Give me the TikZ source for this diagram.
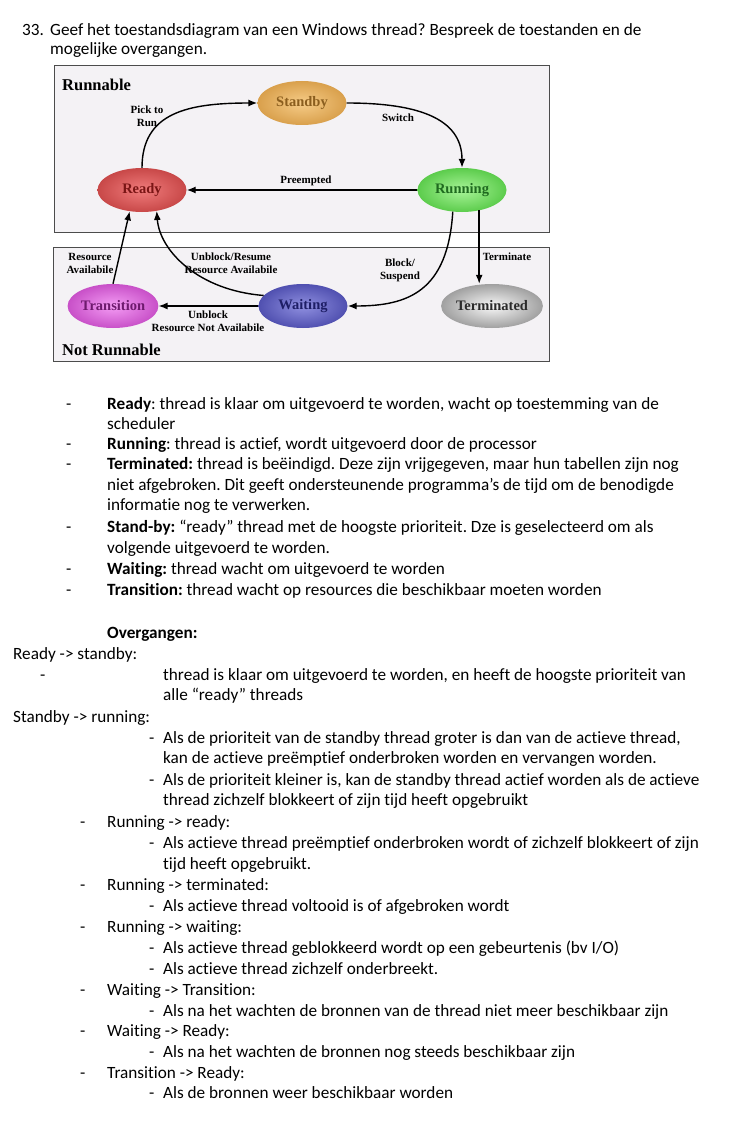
\documentclass[tikz,border=0pt]{standalone}
\usepackage{fontspec}
\setmainfont{Carlito}[Ligatures=NoCommon]
\newfontfamily\diagfont{Liberation Serif}
\usetikzlibrary{arrows.meta, shapes.geometric}
\frenchspacing

\definecolor{boxgray}{HTML}{F4F2F5}
\definecolor{sbIn}{HTML}{F6CC88}\definecolor{sbOut}{HTML}{D9A04C}\definecolor{sbTxt}{HTML}{8B5E1E}
\definecolor{rdIn}{HTML}{F07C7C}\definecolor{rdOut}{HTML}{C84848}\definecolor{rdTxt}{HTML}{7A1515}
\definecolor{rnIn}{HTML}{A8F498}\definecolor{rnOut}{HTML}{5CCC4C}\definecolor{rnTxt}{HTML}{1F6A1F}
\definecolor{trIn}{HTML}{F49CF4}\definecolor{trOut}{HTML}{C850C8}\definecolor{trTxt}{HTML}{6E1A6E}
\definecolor{waIn}{HTML}{9090E0}\definecolor{waOut}{HTML}{5050B0}\definecolor{waTxt}{HTML}{1E1E66}
\definecolor{teIn}{HTML}{F8F8F8}\definecolor{teOut}{HTML}{A0A0A0}\definecolor{teTxt}{HTML}{2A2A2A}

\begin{document}
\begin{tikzpicture}[x=1pt, y=-1pt,
    txt/.style={anchor=base west, inner sep=0pt, font=\fontsize{17.2}{20}\selectfont},
    stateshape/.style={ellipse, shading=radial, minimum width=89pt, minimum height=44pt,
        inner sep=0pt, font=\diagfont\bfseries\fontsize{14.5}{16}\selectfont},
    region/.style={draw=black!70, fill=boxgray, line width=0.8pt},
    title/.style={anchor=base west, inner sep=0pt, font=\diagfont\bfseries\fontsize{16.5}{18}\selectfont},
    lbl/.style={align=center, inner sep=0pt, font=\diagfont\bfseries\fontsize{11}{13}\selectfont},
    arr/.style={-{Latex[length=9pt,width=7pt]}, line width=1.4pt}
]
\fill[white] (0,0) rectangle (728,1129);
\useasboundingbox (0,0) rectangle (728,1129);

% question
\node[txt] (qnum) at (22,36) {33.};
\node[txt] (q1) at (50,36) {Geef het toestandsdiagram van een Windows thread? Bespreek de toestanden en de};
\node[txt] (q2) at (50,55) {mogelijke overgangen.};

% regions
\draw[region] (54,65) rectangle (549,232);
\draw[region] (53,247) rectangle (549,361);
\node[title] (runnable) at (62,91) {Runnable};
\node[title] (notrunnable) at (62,355) {Not Runnable};

% states
\node[stateshape, inner color=sbIn, outer color=sbOut, text=sbTxt] (standby) at (302,103) {Standby};
\node[stateshape, inner color=rdIn, outer color=rdOut, text=rdTxt] (ready) at (142,190) {Ready};
\node[stateshape, inner color=rnIn, outer color=rnOut, text=rnTxt] (running) at (462,190) {Running};
\node[stateshape, inner color=trIn, outer color=trOut, text=trTxt] (transition) at (113,306) {Transition};
\node[stateshape, inner color=waIn, outer color=waOut, text=waTxt] (waiting) at (303,306) {Waiting};
\node[stateshape, inner color=teIn, outer color=teOut, text=teTxt] (terminated) at (492,306) {Terminated};

% transitions
\draw[arr] (ready.north) .. controls +(0,-55) and +(-70,0) .. (standby.west);
\draw[arr] (standby.east) .. controls +(70,0) and +(0,-50) .. (running.north);
\draw[arr] (running.west) -- (ready.east);
\draw[arr] (running.-113) .. controls +(-5,80) and +(60,0) .. (waiting.east);
\draw[arr] (running.-50) -- (running.-50 |- terminated.north);
\draw[arr] (waiting.165) .. controls +(-65,-5) and +(3,40) .. (ready.-55);
\draw[arr] (transition.north) -- (ready.-120);
\draw[arr] (waiting.west) -- (transition.east);

\node[lbl] (picklbl) at (147,116) {Pick to\\Run};
\node[lbl] (switchlbl) at (398,118) {Switch};
\node[lbl] (preemptlbl) at (306,181) {Preempted};
\node[lbl] (blocklbl) at (400,270) {Block/\\Suspend};
\node[lbl] (termlbl) at (507,257) {Terminate};
\node[lbl] (resumelbl) at (231,263) {Unblock/Resume\\Resource Availabile};
\node[lbl] (availlbl) at (90,263) {Resource\\Availabile};
\node[lbl] (notavaillbl) at (208,321) {Unblock\\Resource Not Availabile};

% states explained
\node[txt] (d1) at (66,409) {-};
\node[txt] (s1a) at (107,409) {\textbf{Ready}: thread is klaar om uitgevoerd te worden, wacht op toestemming van de};
\node[txt] (s1b) at (107,429) {scheduler};
\node[txt] (d2) at (66,449) {-};
\node[txt] (s2) at (107,449) {\textbf{Running}: thread is actief, wordt uitgevoerd door de processor};
\node[txt] (d3) at (66,469) {-};
\node[txt] (s3a) at (107,469) {\textbf{Terminated:} thread is beëindigd. Deze zijn vrijgegeven, maar hun tabellen zijn nog};
\node[txt] (s3b) at (107,490) {niet afgebroken. Dit geeft ondersteunende programma’s de tijd om de benodigde};
\node[txt] (s3c) at (107,510) {informatie nog te verwerken.};
\node[txt] (d4) at (66,532) {-};
\node[txt] (s4a) at (107,532) {\textbf{Stand-by:} “ready” thread met de hoogste prioriteit. Dze is geselecteerd om als};
\node[txt] (s4b) at (107,553) {volgende uitgevoerd te worden.};
\node[txt] (d5) at (66,574) {-};
\node[txt] (s5) at (107,574) {\textbf{Waiting:} thread wacht om uitgevoerd te worden};
\node[txt] (d6) at (66,595) {-};
\node[txt] (s6) at (107,595) {\textbf{Transition:} thread wacht op resources die beschikbaar moeten worden};

% transitions explained
\node[txt] (ovhead) at (107,638) {\textbf{Overgangen:}};
\node[txt] (o1) at (13,659) {Ready -> standby:};
\node[txt] (o1d) at (40,680) {-};
\node[txt] (o1a) at (163,680) {thread is klaar om uitgevoerd te worden, en heeft de hoogste prioriteit van};
\node[txt] (o1b) at (163,700) {alle “ready” threads};
\node[txt] (o2) at (13,722) {Standby -> running:};
\node[txt] (o2d1) at (149,743) {-};
\node[txt] (o2a) at (163,743) {Als de prioriteit van de standby thread groter is dan van de actieve thread,};
\node[txt] (o2b) at (163,763) {kan de actieve preëmptief onderbroken worden en vervangen worden.};
\node[txt] (o2d2) at (149,785) {-};
\node[txt] (o2c) at (163,785) {Als de prioriteit kleiner is, kan de standby thread actief worden als de actieve};
\node[txt] (o2e) at (163,805) {thread zichzelf blokkeert of zijn tijd heeft opgebruikt};
\node[txt] (o3d) at (80,827) {-};
\node[txt] (o3) at (107,827) {Running -> ready:};
\node[txt] (o3d1) at (149,848) {-};
\node[txt] (o3a) at (163,848) {Als actieve thread preëmptief onderbroken wordt of zichzelf blokkeert of zijn};
\node[txt] (o3b) at (163,869) {tijd heeft opgebruikt.};
\node[txt] (o4d) at (80,890) {-};
\node[txt] (o4) at (107,890) {Running -> terminated:};
\node[txt] (o4d1) at (149,911) {-};
\node[txt] (o4a) at (163,911) {Als actieve thread voltooid is of afgebroken wordt};
\node[txt] (o5d) at (80,932) {-};
\node[txt] (o5) at (107,932) {Running -> waiting:};
\node[txt] (o5d1) at (149,953) {-};
\node[txt] (o5a) at (163,953) {Als actieve thread geblokkeerd wordt op een gebeurtenis (bv I/O)};
\node[txt] (o5d2) at (149,974) {-};
\node[txt] (o5b) at (163,974) {Als actieve thread zichzelf onderbreekt.};
\node[txt] (o6d) at (80,995) {-};
\node[txt] (o6) at (107,995) {Waiting -> Transition:};
\node[txt] (o6d1) at (149,1016) {-};
\node[txt] (o6a) at (163,1016) {Als na het wachten de bronnen van de thread niet meer beschikbaar zijn};
\node[txt] (o7d) at (80,1036) {-};
\node[txt] (o7) at (107,1036) {Waiting -> Ready:};
\node[txt] (o7d1) at (149,1057) {-};
\node[txt] (o7a) at (163,1057) {Als na het wachten de bronnen nog steeds beschikbaar zijn};
\node[txt] (o8d) at (80,1078) {-};
\node[txt] (o8) at (107,1078) {Transition -> Ready:};
\node[txt] (o8d1) at (149,1098) {-};
\node[txt] (o8a) at (163,1098) {Als de bronnen weer beschikbaar worden};
\end{tikzpicture}
\end{document}
